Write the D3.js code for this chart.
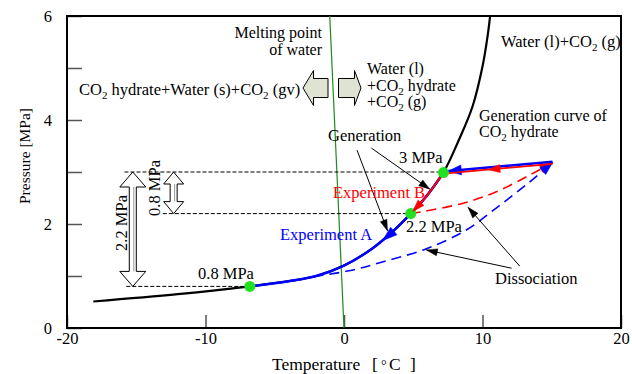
<!DOCTYPE html>
<html><head><meta charset="utf-8">
<script src="https://cdn.jsdelivr.net/npm/d3@7"></script>
<style>
body{margin:0;background:#fff}
svg{display:block}
svg text, svg tspan{font-family:"Liberation Serif","Times New Roman",Tinos,Times,"DejaVu Serif",serif !important;}
</style>
</head><body>
<svg id="c" width="632" height="374" font-family="Liberation Serif, Times New Roman, serif"></svg>
<script>
// ---------- data ----------
// CO2 hydrate generation curve (Temperature °C, Pressure MPa)
const curveT = [-18.1, -12, -6.8, -4, -2, 0, 2, 3.5, 4.82, 6, 7.18, 8.3, 9.28, 10, 10.36, 10.55];
const curveP = [0.51, 0.65, 0.8, 0.9, 1.0, 1.2, 1.52, 1.85, 2.2, 2.55, 2.99, 3.62, 4.26, 5.03, 5.6, 6.0];
// key states (green dots)
const dotT = [-6.8, 4.82, 7.18];
const dotP = [0.8, 2.2, 2.99];
const dotLabels = ["0.8 MPa", "2.2 MPa", "3 MPa"];
// heating / pressurising path back to generation point
const returnT = [15.06, 7.18];
const returnP = [3.18, 2.99];
// dissociation paths
const redDashT = [4.82, 5.7, 8.6, 11.0, 13.4, 15.06];
const redDashP = [2.2, 2.24, 2.4, 2.62, 2.94, 3.18];
const blueDashT = [-2.2, 0.36, 2.77, 5.9, 8.8, 11.2, 13.37, 15.06];
const blueDashP = [0.99, 1.1, 1.27, 1.52, 1.88, 2.35, 2.8, 3.18];
// melting point of water
const meltT = [0, -1.03];
const meltP = [0, 6];
// reference pressure levels
const refP = [3, 2.2, 0.8];
const refStartT = [-15.85, -13.08, -15.72];
const refEndT = [7.18, 4.82, -6.8];
// ticks
const xTicks = [-20, -10, 0, 10, 20];
const yTicks = [0, 1, 2, 3, 4, 5, 6];

const FONT = "Liberation Serif, Times New Roman, serif";
const FS = 16.5;

// ---------- setup ----------
const svg = d3.select("#c");
const x = d3.scaleLinear().domain([-20, 20]).range([67, 621]);
const y = d3.scaleLinear().domain([0, 6]).range([328, 16]);
const zip = (a, b) => a.map((v, i) => [v, b[i]]);
const line = d3.line().x(d => x(d[0])).y(d => y(d[1])).curve(d3.curveCatmullRom.alpha(0.5));
const straight = d3.line().x(d => x(d[0])).y(d => y(d[1]));

svg.append("defs").append("clipPath").attr("id", "clip")
  .append("rect").attr("x", x(-20)).attr("y", y(6)).attr("width", x(20) - x(-20)).attr("height", y(0) - y(6));

// axes
const yAxis = d3.axisLeft(y).tickValues(yTicks).tickSize(-15).tickPadding(15)
  .tickFormat(d => d % 2 === 0 ? String(d) : "");
const gy = svg.append("g").attr("transform", `translate(${x(-20)},0)`).call(yAxis);
const xAxis = d3.axisBottom(x).tickValues(xTicks).tickSize(-13).tickPadding(4)
  .tickFormat(d => String(d));
const gx = svg.append("g").attr("transform", `translate(0,${y(0)})`).call(xAxis);
[gx, gy].forEach(g => {
  g.attr("font-family", FONT).attr("font-size", FS);
  g.select(".domain").remove();
  g.selectAll(".tick line").attr("stroke", "#555").attr("stroke-width", 1.5);
  g.selectAll(".tick text").attr("font-size", FS).attr("fill", "#000").attr("font-family", FONT);
});

// frame
svg.append("rect").attr("x", x(-20)).attr("y", y(6))
  .attr("width", x(20) - x(-20)).attr("height", y(0) - y(6))
  .attr("fill", "none").attr("stroke", "#000").attr("stroke-width", 2);

// axis titles
const xt = svg.append("text").attr("y", 370).attr("font-size", 17.5).attr("font-family", FONT);
xt.append("tspan").attr("x", 272).text("Temperature");
xt.append("tspan").attr("x", 372).text("[");
xt.append("tspan").attr("x", 381).attr("font-size", 14).text("°");
xt.append("tspan").attr("x", 389).text("C");
xt.append("tspan").attr("x", 410).text("]");
svg.append("text").attr("transform", "translate(30,156) rotate(-90)").attr("font-family", FONT)
  .attr("text-anchor", "middle").attr("font-size", 15.5).text("Pressure  [MPa]");

const plot = svg.append("g").attr("clip-path", "url(#clip)");

// helpers
function head(g, tip, from, L, W, color) {
  let dx = tip[0] - from[0], dy = tip[1] - from[1];
  const n = Math.hypot(dx, dy) || 1; dx /= n; dy /= n;
  const px = -dy, py = dx;
  const bx = tip[0] - dx * L, by = tip[1] - dy * L;
  g.append("path").attr("d",
    `M${tip[0]},${tip[1]}L${bx + px * W / 2},${by + py * W / 2}L${bx - px * W / 2},${by - py * W / 2}Z`)
    .attr("fill", color).attr("stroke", color).attr("stroke-width", 0.5);
}
function lengthAtX(node, tx) {
  const total = node.getTotalLength();
  const inc = node.getPointAtLength(total).x > node.getPointAtLength(0).x;
  let lo = 0, hi = total;
  for (let i = 0; i < 40; i++) {
    const mid = (lo + hi) / 2, px = node.getPointAtLength(mid).x;
    if ((px < tx) === inc) lo = mid; else hi = mid;
  }
  return (lo + hi) / 2;
}
function headOnPath(g, node, len, L, W, color) {
  const p = node.getPointAtLength(len), q = node.getPointAtLength(Math.max(0, len - 2));
  head(g, [p.x, p.y], [q.x, q.y], L, W, color);
}
function addText(g, px, py, str, opt = {}) {
  const t = g.append("text").attr("x", px).attr("y", py).attr("font-family", FONT)
    .attr("font-size", opt.size || FS).attr("fill", opt.fill || "#000")
    .attr("text-anchor", opt.anchor || "start");
  if (opt.transform) t.attr("transform", opt.transform);
  let shifted = false;
  str.split(/(\{[^}]*\})/).forEach(p => {
    if (!p) return;
    if (p[0] === "{") { t.append("tspan").attr("dy", 4).attr("font-size", 11).text(p.slice(1, -1)); shifted = true; }
    else { const ts = t.append("tspan").text(p); if (shifted) { ts.attr("dy", -4); shifted = false; } }
  });
  return t;
}

// melting line
plot.append("path").attr("d", straight(zip(meltT, meltP)))
  .attr("stroke", "#1e8a1e").attr("stroke-width", 1.2).attr("fill", "none");

// reference dashed lines
refP.forEach((p, i) => {
  plot.append("path").attr("d", straight([[refStartT[i], p], [refEndT[i], p]]))
    .attr("stroke", "#000").attr("stroke-width", 1).attr("stroke-dasharray", "4,2").attr("fill", "none");
});

// hollow double arrows
function dblArrow(cx, yt, yb, sw, hw, hl) {
  const pts = [[cx, yt], [cx + hw, yt + hl], [cx + sw, yt + hl], [cx + sw, yb - hl], [cx + hw, yb - hl],
    [cx, yb], [cx - hw, yb - hl], [cx - sw, yb - hl], [cx - sw, yt + hl], [cx - hw, yt + hl]];
  svg.append("path").attr("d", "M" + pts.join("L") + "Z")
    .attr("fill", "#fff").attr("stroke", "#000").attr("stroke-width", 1);
  svg.append("line").attr("x1", cx + 1).attr("x2", cx + 1).attr("y1", yt + hl).attr("y2", yb - hl)
    .attr("stroke", "#999").attr("stroke-width", 1);
}
dblArrow(x(-15.25), y(refP[0]), y(refP[2]), 3.5, 13, 15);
dblArrow(x(-12.3), y(refP[0]), y(refP[1]), 3.5, 10, 12);
addText(svg, 0, 0, "2.2 MPa", { anchor: "middle", transform: `translate(${x(-15.25) - 6},223) rotate(-90)` });
addText(svg, 0, 0, "0.8 MPa", { anchor: "middle", transform: `translate(${x(-12.3) - 14},188) rotate(-90)` });

// hollow horizontal arrows
function hArrow(tip, base, end, cy, bh, hh) {
  const pts = [[tip, cy], [base, cy - hh], [base, cy - bh], [end, cy - bh], [end, cy + bh], [base, cy + bh], [base, cy + hh]];
  svg.append("path").attr("d", "M" + pts.join("L") + "Z")
    .attr("fill", "#dfe3d2").attr("stroke", "#000").attr("stroke-width", 1);
}
hArrow(303, 313.5, 328, 88, 9.5, 17.5);
hArrow(361, 354.5, 338.5, 88, 9.5, 17.5);

// generation curve
plot.append("path").attr("d", line(zip(curveT, curveP)))
  .attr("stroke", "#000").attr("stroke-width", 2.2).attr("fill", "none");

// blue solid along curve (dot3 -> dot1)
const alongBlue = zip(curveT, curveP).filter(d => d[0] >= dotT[0] && d[0] <= dotT[2]).reverse();
const bAlong = plot.append("path").attr("d", line(alongBlue))
  .attr("stroke", "#0000ff").attr("stroke-width", 2.5).attr("fill", "none");
headOnPath(plot, bAlong.node(), lengthAtX(bAlong.node(), x(2.77)), 15, 10, "#0000ff");

// red solid along curve (dot3 -> dot2)
const alongRed = zip(curveT, curveP).filter(d => d[0] >= dotT[1] && d[0] <= dotT[2]).reverse();
const rAlong = plot.append("path").attr("d", line(alongRed))
  .attr("stroke", "#ff0000").attr("stroke-width", 2).attr("fill", "none");

// dashed dissociation curves
const rDash = plot.append("path").attr("d", line(zip(redDashT, redDashP)))
  .attr("stroke", "#ff0000").attr("stroke-width", 1.6).attr("stroke-dasharray", "10,6").attr("fill", "none");
const bDash = plot.append("path").attr("d", line(zip(blueDashT, blueDashP)))
  .attr("stroke", "#0000ff").attr("stroke-width", 1.6).attr("stroke-dasharray", "10,6").attr("fill", "none");
headOnPath(plot, rDash.node(), rDash.node().getTotalLength(), 13, 9, "#ff0000");
headOnPath(plot, bDash.node(), bDash.node().getTotalLength(), 13, 9, "#0000ff");

// return lines (blue above, red below)
const gb = plot.append("g").attr("transform", "translate(0,-1)");
const bRet = gb.append("path").attr("d", straight(zip(returnT, returnP)))
  .attr("stroke", "#0000ff").attr("stroke-width", 2.5).attr("fill", "none");
const gr = plot.append("g").attr("transform", "translate(0,1.2)");
const rRet = gr.append("path").attr("d", straight(zip(returnT, returnP)))
  .attr("stroke", "#ff0000").attr("stroke-width", 1.8).attr("fill", "none");

// green dots
plot.selectAll("circle.dot").data(zip(dotT, dotP)).join("circle").attr("class", "dot")
  .attr("cx", d => x(d[0])).attr("cy", d => y(d[1])).attr("r", 5.5).attr("fill", "#22e022");

// arrowheads on top
headOnPath(gb, bRet.node(), lengthAtX(bRet.node(), x(7.53)), 13, 10, "#0000ff");
headOnPath(gr, rRet.node(), lengthAtX(rRet.node(), x(10.4)), 12, 8, "#ff0000");
headOnPath(plot, rAlong.node(), rAlong.node().getTotalLength() - 3, 12, 8, "#ff0000");

// pointer arrows (black)
const pointers = [
  [[0.94, 3.42], [3.14, 1.87]],
  [[1.98, 3.46], [6.19, 2.67]],
  [[12.69, 1.19], [8.96, 2.32]],
  [[12.1, 1.15], [5.95, 1.5]]
];
pointers.forEach(([a, b]) => {
  svg.append("line").attr("x1", x(a[0])).attr("y1", y(a[1])).attr("x2", x(b[0])).attr("y2", y(b[1]))
    .attr("stroke", "#000").attr("stroke-width", 1);
  head(svg, [x(b[0]), y(b[1])], [x(a[0]), y(a[1])], 11, 7, "#000");
});

// labels
addText(svg, 322, 38, "Melting point", { anchor: "end", size: 16 });
addText(svg, 322, 55, "of water", { anchor: "end", size: 16 });
addText(svg, 79, 95, "CO{2} hydrate+Water (s)+CO{2} (gv)");
addText(svg, 367, 74, "Water (l)", { size: 16 });
addText(svg, 367, 90.5, "+CO{2} hydrate", { size: 16 });
addText(svg, 367, 107, "+CO{2} (g)", { size: 16 });
addText(svg, 501, 47, "Water (l)+CO{2} (g)");
addText(svg, 479, 120.5, "Generation curve of", { size: 16 });
addText(svg, 479, 137, "CO{2} hydrate", { size: 16 });
addText(svg, 328, 141, "Generation");
addText(svg, 399, 163, dotLabels[2]);
addText(svg, 333, 198, "Experiment B", { fill: "#ff0000" });
addText(svg, 280, 240, "Experiment A", { fill: "#0000ff" });
addText(svg, 406, 232, dotLabels[1]);
addText(svg, 198, 279, dotLabels[0]);
addText(svg, 495, 284, "Dissociation");
</script>
</body></html>
